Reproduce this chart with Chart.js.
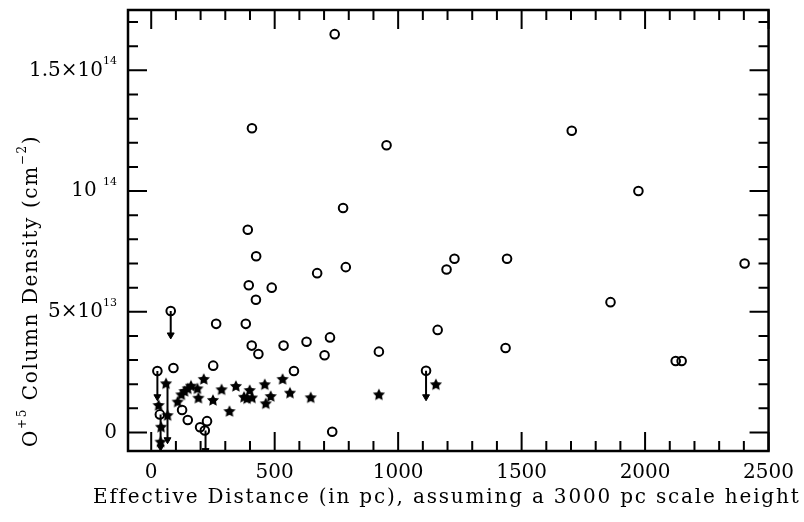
<!DOCTYPE html>
<html>
<head>
<meta charset="utf-8">
<script src="https://cdn.jsdelivr.net/npm/chart.js@4.4.1/dist/chart.umd.min.js"></script>
<style>
  html, body { margin: 0; padding: 0; background: #fff; }
  canvas { display: block; }
</style>
</head>
<body>
<canvas id="chart" width="804" height="522"></canvas>
<script>
// column densities in units of 10^12 cm^-2, distances in pc
const circleX = [743, 408, 953, 1703, 1973, 777, 391, 425, 395, 424, 488, 672, 788, 1196, 1228,
  1441, 2403, 1860, 263, 383, 407, 434, 536, 629, 724, 702, 578, 251, 90, 922, 1160, 1435,
  2124, 2148, 733, 125, 148, 226, 198, 217, 35, 79, 25, 1113];
const circleY = [165, 126, 119, 125, 100, 93, 84, 73, 61, 55, 60, 66, 68.5, 67.5, 72,
  72, 70, 54, 45, 45, 36, 32.5, 36, 37.6, 39.4, 32, 25.5, 27.7, 26.7, 33.5, 42.5, 35,
  29.6, 29.6, 0.3, 9.3, 5.2, 4.7, 2.2, 0.8, 7.5, 50.3, 25.5, 25.6];

const starX = [30, 66, 40, 38, 60, 107, 122, 135, 148, 161, 187, 191, 213, 250, 285, 343, 317,
  376, 388, 399, 408, 460, 464, 484, 532, 562, 646, 922, 1153];
const starY = [11.4, 7.2, 2.4, -3.8, 20.4, 12.8, 15.8, 17.2, 18.3, 19.4, 18.3, 14.4, 22.2, 13.5,
  17.9, 19.3, 8.9, 14.8, 14.2, 17.6, 14.5, 20, 12.1, 15.1, 22.2, 16.5, 14.6, 15.8, 20];

// upper limits: line from measured value down to the arrow
const limitX = [25, 79, 38, 66, 220, 1113];
const limitTop = [25.5, 50.3, 7.5, 20.4, 0.8, 25.6];
const limitBottom = [14.8, 40.4, -6, -3, -7.5, 14.8];

const xTicks = [0, 500, 1000, 1500, 2000, 2500];
const yTickValues = [0, 50, 100, 150];
const yTickLabels = ["0", "5\u00d710", "10 ", "1.5\u00d710"];
const yTickPowers = ["", "13", "14", "14"];

const FONT = "'DejaVu Serif', serif";

// filled star marker
const star = document.createElement("canvas");
star.width = 14; star.height = 14;
const sc = star.getContext("2d");
sc.beginPath();
for (let i = 0; i < 10; i++) {
  const r = i % 2 === 0 ? 6.4 : 3.2;
  const a = -Math.PI / 2 + i * Math.PI / 5;
  const px = 7 + r * Math.cos(a), py = 7.6 + r * Math.sin(a);
  if (i === 0) sc.moveTo(px, py); else sc.lineTo(px, py);
}
sc.closePath();
sc.fillStyle = "#000";
sc.fill();

const datasets = [
  {
    label: "detections",
    data: circleX.map((x, i) => ({ x: x, y: circleY[i] })),
    pointStyle: "circle",
    pointRadius: 4.3,
    borderWidth: 2,
    borderColor: "#000",
    backgroundColor: "rgba(255,255,255,0)",
  },
  {
    label: "stars",
    data: starX.map((x, i) => ({ x: x, y: starY[i] })),
    pointStyle: star,
  },
  {
    label: "arrows",
    data: limitX.map((x, i) => ({ x: x, y: limitBottom[i] })),
    pointStyle: "triangle",
    rotation: 180,
    pointRadius: 4,
    borderWidth: 1,
    borderColor: "#000",
    backgroundColor: "#000",
  },
];
limitX.forEach((x, i) => {
  datasets.push({
    label: "limit" + i,
    data: [{ x: x, y: limitTop[i] }, { x: x, y: limitBottom[i] }],
    showLine: true,
    pointRadius: 0,
    borderWidth: 2,
    borderColor: "#000",
  });
});

// frame, inward ticks on all sides, y labels with exponents, axis titles
const framePlugin = {
  id: "frame",
  afterDraw(chart) {
    const ctx = chart.ctx;
    const a = chart.chartArea;
    const xs = chart.scales.x, ys = chart.scales.y;
    ctx.save();
    ctx.strokeStyle = "#000";
    ctx.lineWidth = 2;
    for (let v = 0; v <= 2500; v += 100) {
      const px = xs.getPixelForValue(v);
      const len = v % 500 === 0 ? 19 : 10;
      ctx.beginPath();
      ctx.moveTo(px, a.bottom); ctx.lineTo(px, a.bottom - len);
      ctx.moveTo(px, a.top); ctx.lineTo(px, a.top + len);
      ctx.stroke();
    }
    for (let v = 0; v <= 170; v += 10) {
      const py = ys.getPixelForValue(v);
      const len = v % 50 === 0 ? 19 : 10;
      ctx.beginPath();
      ctx.moveTo(a.left, py); ctx.lineTo(a.left + len, py);
      ctx.moveTo(a.right, py); ctx.lineTo(a.right - len, py);
      ctx.stroke();
    }
    ctx.lineWidth = 2.5;
    ctx.strokeRect(a.left, a.top, a.right - a.left, a.bottom - a.top);

    // y tick labels
    ctx.fillStyle = "#000";
    ctx.textBaseline = "middle";
    yTickValues.forEach((v, i) => {
      const py = ys.getPixelForValue(v);
      ctx.font = "11px " + FONT;
      const pw = ctx.measureText(yTickPowers[i]).width;
      const right = 117;
      ctx.textAlign = "left";
      ctx.fillText(yTickPowers[i], right - pw, py - 9);
      ctx.font = "20px " + FONT;
      ctx.textAlign = "right";
      ctx.fillText(yTickLabels[i], right - pw, py);
    });

    // x title
    const xt = "Effective Distance (in pc), assuming a 3000 pc scale height";
    ctx.font = "20px " + FONT;
    ctx.letterSpacing = "0px";
    const w0 = ctx.measureText(xt).width;
    ctx.letterSpacing = ((707 - w0) / xt.length).toFixed(2) + "px";
    ctx.textAlign = "left";
    ctx.fillText(xt, 93, 498);

    // y title, rotated, with superscripts
    const runs = [
      { t: "O", s: 20, dy: 0 },
      { t: "+5", s: 12, dy: -9 },
      { t: " Column Density (cm", s: 20, dy: 0 },
      { t: "\u22122", s: 12, dy: -9 },
      { t: ")", s: 20, dy: 0 },
    ];
    ctx.letterSpacing = "0px";
    let raw = 0, n = 0;
    runs.forEach(r => { ctx.font = r.s + "px " + FONT; raw += ctx.measureText(r.t).width; n += r.t.length; });
    const sp = (312 - raw) / n;
    ctx.letterSpacing = sp.toFixed(2) + "px";
    let total = 0;
    runs.forEach(r => { ctx.font = r.s + "px " + FONT; r.w = ctx.measureText(r.t).width; total += r.w; });
    ctx.translate(32, 291);
    ctx.rotate(-Math.PI / 2);
    let cx = -total / 2;
    runs.forEach(r => {
      ctx.font = r.s + "px " + FONT;
      ctx.fillText(r.t, cx, r.dy);
      cx += r.w;
    });
    ctx.restore();
  },
};

new Chart(document.getElementById("chart"), {
  type: "scatter",
  data: { datasets: datasets },
  options: {
    responsive: false,
    animation: false,
    devicePixelRatio: 1,
    layout: { padding: { top: 10, right: 11, left: 0, bottom: 0 } },
    plugins: { legend: { display: false }, tooltip: { enabled: false } },
    elements: { point: { radius: 4, borderColor: "#000", backgroundColor: "#000" } },
    scales: {
      x: {
        type: "linear",
        min: -94,
        max: 2500,
        afterBuildTicks: (scale) => { scale.ticks = xTicks.map(v => ({ value: v })); },
        afterFit: (scale) => { scale.height = 71; },
        grid: { display: false, drawTicks: false },
        border: { display: false },
        ticks: {
          color: "#000",
          padding: 10,
          maxRotation: 0,
          font: { family: FONT, size: 20 },
          callback: (value) => String(value),
        },
      },
      y: {
        type: "linear",
        min: -7.66,
        max: 175,
        afterFit: (scale) => { scale.width = 128; },
        grid: { display: false, drawTicks: false },
        border: { display: false },
        ticks: { display: false },
      },
    },
  },
  plugins: [framePlugin],
});
</script>
</body>
</html>
